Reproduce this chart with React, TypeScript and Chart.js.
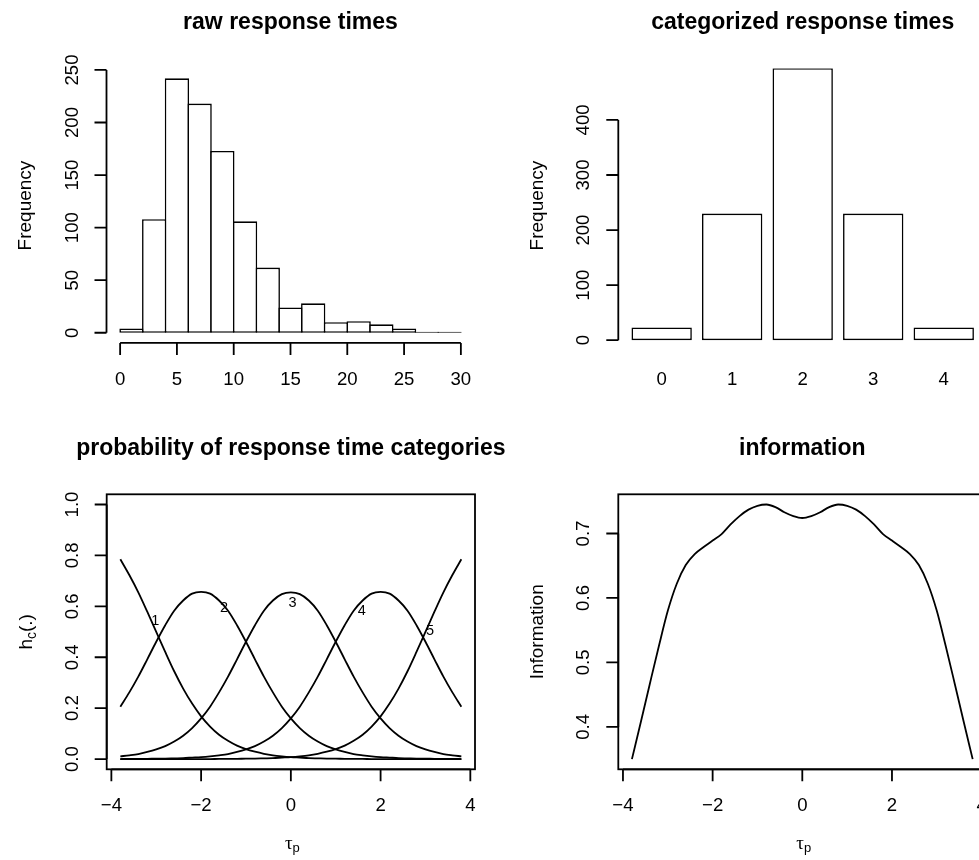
import React, { useEffect, useRef } from 'react';
import { Chart, registerables } from 'chart.js';
Chart.register(...registerables);

// ---------- data ----------
const histBreaks = [0, 2, 4, 6, 8, 10, 12, 14, 16, 18, 20, 22, 24, 26, 28, 30];
const histCounts = [4, 108, 242, 218, 173, 106, 62, 24, 28, 10, 11, 8, 4, 1, 1];
const histXTicks = [0, 5, 10, 15, 20, 25, 30];
const histYTicks = [0, 50, 100, 150, 200, 250];

const catLabels = ['0', '1', '2', '3', '4'];
const catCounts = [23, 230, 494, 230, 23];
const catYTicks = [0, 100, 200, 300, 400];

const tau = [
  -3.8, -3.6, -3.4, -3.2, -3.0, -2.8, -2.6, -2.4, -2.2, -2.0, -1.8, -1.6, -1.4, -1.2, -1.0, -0.8, -0.6, -0.4, -0.2,
  0.0, 0.2, 0.4, 0.6, 0.8, 1.0, 1.2, 1.4, 1.6, 1.8, 2.0, 2.2, 2.4, 2.6, 2.8, 3.0, 3.2, 3.4, 3.6, 3.8,
];
const probCat1 = [
  0.785, 0.723, 0.655, 0.579, 0.5, 0.421, 0.345, 0.277, 0.218, 0.168, 0.128, 0.096, 0.072, 0.053, 0.039, 0.029, 0.021,
  0.015, 0.011, 0.008, 0.006, 0.004, 0.003, 0.002, 0.002, 0.001, 0.001, 0.001, 0, 0, 0, 0, 0, 0, 0, 0, 0, 0, 0,
];
const probCat2 = [
  0.206, 0.262, 0.324, 0.392, 0.461, 0.526, 0.583, 0.623, 0.65, 0.657, 0.65, 0.623, 0.583, 0.526, 0.461, 0.392, 0.324,
  0.262, 0.206, 0.16, 0.122, 0.092, 0.069, 0.051, 0.038, 0.028, 0.02, 0.015, 0.011, 0.008, 0.006, 0.004, 0.003, 0.002,
  0.002, 0.001, 0.001, 0.001, 0.0,
];
const probCat3 = [
  0.011, 0.015, 0.02, 0.028, 0.038, 0.051, 0.069, 0.092, 0.122, 0.16, 0.206, 0.262, 0.324, 0.392, 0.461, 0.526, 0.583,
  0.623, 0.648, 0.655, 0.648, 0.623, 0.583, 0.526, 0.461, 0.392, 0.324, 0.262, 0.206, 0.16, 0.122, 0.092, 0.069, 0.051,
  0.038, 0.028, 0.02, 0.015, 0.011,
];
const probCat4 = [
  0.0, 0.001, 0.001, 0.001, 0.002, 0.002, 0.003, 0.004, 0.006, 0.008, 0.011, 0.015, 0.02, 0.028, 0.038, 0.051, 0.069,
  0.092, 0.122, 0.16, 0.206, 0.262, 0.324, 0.392, 0.461, 0.526, 0.583, 0.623, 0.65, 0.657, 0.65, 0.623, 0.583, 0.526,
  0.461, 0.392, 0.324, 0.262, 0.206,
];
const probCat5 = [
  0, 0, 0, 0, 0, 0, 0, 0, 0, 0, 0, 0.001, 0.001, 0.001, 0.002, 0.002, 0.003, 0.004, 0.006, 0.008, 0.011, 0.015, 0.021,
  0.029, 0.039, 0.053, 0.072, 0.096, 0.128, 0.168, 0.218, 0.277, 0.345, 0.421, 0.5, 0.579, 0.655, 0.723, 0.785,
];
const probLabels = ['1', '2', '3', '4', '5'];
const probLabelX = [-3.02, -1.49, 0.04, 1.58, 3.1];
const probLabelY = [0.541, 0.592, 0.614, 0.583, 0.503];
const tauXTicks = [-4, -2, 0, 2, 4];
const probYTicks = [0, 0.2, 0.4, 0.6, 0.8, 1.0];

const infoValues = [
  0.35, 0.408, 0.467, 0.525, 0.58, 0.622, 0.651, 0.668, 0.679, 0.689, 0.699, 0.714, 0.727, 0.737, 0.743, 0.745, 0.741,
  0.733, 0.727, 0.724, 0.727, 0.733, 0.741, 0.745, 0.743, 0.737, 0.727, 0.714, 0.699, 0.689, 0.679, 0.668, 0.651, 0.622,
  0.58, 0.525, 0.467, 0.408, 0.35,
];
const infoYTicks = [0.4, 0.5, 0.6, 0.7];

// ---------- helpers ----------
const FONT = '"Liberation Sans", Arial, Helvetica, sans-serif';
const SERIF = '"Liberation Serif", "DejaVu Serif", serif';
const INK = '#000';
const minus = (s: string) => s.replace('-', '\u2212');
const ext = (a: number, b: number) => [a - 0.04 * (b - a), b + 0.04 * (b - a)];

type Deco = {
  title: string;
  xTicks?: number[];
  xTickText?: string[];
  catAxis?: boolean;
  yTicks: number[];
  yTickText: string[];
  yAxisGap?: number;
  yLabel: string;
  xLabelTau?: boolean;
  box?: boolean;
  notes?: { text: string[]; x: number[]; y: number[] };
};

function rPlugin(d: Deco) {
  return {
    id: 'rdeco',
    afterDatasetsDraw(chart: any) {
      const { ctx, chartArea: ca, scales } = chart;
      const xs = scales.x;
      const ys = scales.y;
      const cx = (ca.left + ca.right) / 2;
      const cy = (ca.top + ca.bottom) / 2;
      ctx.save();
      ctx.strokeStyle = INK;
      ctx.fillStyle = INK;
      ctx.lineWidth = 1.8;
      ctx.textAlign = 'center';
      ctx.textBaseline = 'middle';

      // title
      ctx.font = `bold 23px ${FONT}`;
      ctx.fillText(d.title, cx, ca.top - 46);

      // box
      if (d.box) ctx.strokeRect(ca.left, ca.top, ca.right - ca.left, ca.bottom - ca.top);

      // y axis
      const ax = ca.left - (d.yAxisGap || 0);
      const yp = d.yTicks.map((v) => ys.getPixelForValue(v));
      ctx.beginPath();
      ctx.moveTo(ax, yp[0]);
      ctx.lineTo(ax, yp[yp.length - 1]);
      yp.forEach((p) => {
        ctx.moveTo(ax, p);
        ctx.lineTo(ax - 12, p);
      });
      ctx.stroke();
      ctx.font = `18.6px ${FONT}`;
      yp.forEach((p, i) => {
        ctx.save();
        ctx.translate(ax - 34, p);
        ctx.rotate(-Math.PI / 2);
        ctx.fillText(d.yTickText[i], 0, 0);
        ctx.restore();
      });

      // x axis
      if (d.xTicks && d.xTickText) {
        const xp = d.xTicks.map((v) => xs.getPixelForValue(v));
        const by = ca.bottom;
        ctx.beginPath();
        ctx.moveTo(xp[0], by);
        ctx.lineTo(xp[xp.length - 1], by);
        xp.forEach((p) => {
          ctx.moveTo(p, by);
          ctx.lineTo(p, by + 12);
        });
        ctx.stroke();
        xp.forEach((p, i) => ctx.fillText(d.xTickText![i], p, by + 37));
      }
      if (d.catAxis) {
        xs.getLabels().forEach((lab: string, i: number) => ctx.fillText(lab, xs.getPixelForValue(i), ca.bottom + 37));
      }

      // y label
      ctx.save();
      ctx.translate(ax - 81, cy);
      ctx.rotate(-Math.PI / 2);
      if (d.yLabel === 'hc') {
        ctx.textAlign = 'left';
        ctx.textBaseline = 'alphabetic';
        ctx.font = `19px ${FONT}`;
        const w1 = ctx.measureText('h').width;
        const w3 = ctx.measureText('(.)').width;
        ctx.font = `14px ${FONT}`;
        const w2 = ctx.measureText('c').width;
        const x0 = -(w1 + w2 + w3) / 2;
        ctx.font = `19px ${FONT}`;
        ctx.fillText('h', x0, 6.5);
        ctx.fillText('(.)', x0 + w1 + w2, 6.5);
        ctx.font = `14px ${FONT}`;
        ctx.fillText('c', x0 + w1, 10.5);
      } else {
        ctx.font = `19px ${FONT}`;
        ctx.fillText(d.yLabel, 0, 0);
      }
      ctx.restore();

      // x label tau_p
      if (d.xLabelTau) {
        ctx.textAlign = 'left';
        ctx.textBaseline = 'alphabetic';
        ctx.font = `19px ${SERIF}`;
        const w1 = ctx.measureText('\u03c4').width;
        ctx.font = `13px ${FONT}`;
        const w2 = ctx.measureText('p').width;
        const x0 = cx + 1.5 - (w1 + w2) / 2;
        const by = ca.bottom + 79.5;
        ctx.font = `19px ${SERIF}`;
        ctx.fillText('\u03c4', x0, by);
        ctx.font = `13px ${FONT}`;
        ctx.fillText('p', x0 + w1, by + 3.5);
      }

      // curve labels
      if (d.notes) {
        ctx.textAlign = 'center';
        ctx.textBaseline = 'middle';
        ctx.font = `14.5px ${FONT}`;
        d.notes.text.forEach((t, i) =>
          ctx.fillText(t, xs.getPixelForValue(d.notes!.x[i]), ys.getPixelForValue(d.notes!.y[i]))
        );
      }
      ctx.restore();
    },
  };
}

const baseOpts = (padding: any) => ({
  animation: false as const,
  responsive: false,
  events: [] as any[],
  layout: { padding },
  plugins: { legend: { display: false }, tooltip: { enabled: false }, title: { display: false } },
});

// ---------- chart configs ----------
function histConfig(): any {
  const mids = histCounts.map((_, i) => (histBreaks[i] + histBreaks[i + 1]) / 2);
  const [xmin, xmax] = ext(histBreaks[0], histBreaks[histBreaks.length - 1]);
  const [ymin, ymax] = ext(0, Math.max(...histCounts));
  return {
    type: 'bar',
    data: {
      datasets: [
        {
          data: mids.map((m, i) => ({ x: m, y: histCounts[i] })),
          backgroundColor: '#fff',
          borderColor: INK,
          borderWidth: 1.6,
          borderSkipped: false,
          barPercentage: 1.07,
          categoryPercentage: 1,
        },
      ],
    },
    options: {
      ...baseOpts({ left: 106.5, right: 36.5, top: 68.2, bottom: 57.1 }),
      scales: {
        x: {
          type: 'linear',
          min: xmin,
          max: xmax,
          offset: false,
          display: false,
          grid: { offset: false },
          ticks: { stepSize: 5, includeBounds: false },
        },
        y: { type: 'linear', min: ymin, max: ymax, display: false },
      },
    },
    plugins: [
      rPlugin({
        title: 'raw response times',
        xTicks: histXTicks,
        xTickText: histXTicks.map(String),
        yTicks: histYTicks,
        yTickText: histYTicks.map(String),
        yLabel: 'Frequency',
      }),
    ],
  };
}

function catConfig(): any {
  const top = Math.max(...catCounts);
  return {
    type: 'bar',
    data: {
      labels: catLabels,
      datasets: [
        {
          data: catCounts,
          backgroundColor: '#fff',
          borderColor: INK,
          borderWidth: 1.6,
          borderSkipped: false,
          barPercentage: 0.856,
          categoryPercentage: 1,
        },
      ],
    },
    options: {
      ...baseOpts({ left: 115.4, right: 43, top: 68.2, bottom: 57.1 }),
      scales: {
        x: { type: 'category', offset: true, display: false },
        y: { type: 'linear', min: -0.01 * top, max: top, display: false },
      },
    },
    plugins: [
      rPlugin({
        title: 'categorized response times',
        catAxis: true,
        yTicks: catYTicks,
        yTickText: catYTicks.map(String),
        yAxisGap: 8.1,
        yLabel: 'Frequency',
      }),
    ],
  };
}

const lineDs = (ys: number[]) => ({
  data: tau.map((t, i) => ({ x: t, y: ys[i] })),
  borderColor: INK,
  borderWidth: 1.8,
  pointRadius: 0,
  fill: false,
  cubicInterpolationMode: 'monotone',
});

function probConfig(): any {
  const [xmin, xmax] = ext(tau[0], tau[tau.length - 1]);
  const [ymin, ymax] = ext(0, 1);
  return {
    type: 'line',
    data: { datasets: [probCat1, probCat2, probCat3, probCat4, probCat5].map(lineDs) },
    options: {
      ...baseOpts({ left: 106.7, right: 36, top: 94.3, bottom: 90.7 }),
      scales: {
        x: { type: 'linear', min: xmin, max: xmax, display: false },
        y: { type: 'linear', min: ymin, max: ymax, display: false },
      },
    },
    plugins: [
      rPlugin({
        title: 'probability of response time categories',
        xTicks: tauXTicks,
        xTickText: tauXTicks.map((v) => minus(String(v))),
        yTicks: probYTicks,
        yTickText: probYTicks.map((v) => v.toFixed(1)),
        yLabel: 'hc',
        xLabelTau: true,
        box: true,
        notes: { text: probLabels, x: probLabelX, y: probLabelY },
      }),
    ],
  };
}

function infoConfig(): any {
  const [xmin, xmax] = ext(tau[0], tau[tau.length - 1]);
  const [ymin, ymax] = ext(Math.min(...infoValues), Math.max(...infoValues));
  return {
    type: 'line',
    data: { datasets: [lineDs(infoValues)] },
    options: {
      ...baseOpts({ left: 107.3, right: 35.7, top: 94.3, bottom: 90.7 }),
      scales: {
        x: { type: 'linear', min: xmin, max: xmax, display: false },
        y: { type: 'linear', min: ymin, max: ymax, display: false },
      },
    },
    plugins: [
      rPlugin({
        title: 'information',
        xTicks: tauXTicks,
        xTickText: tauXTicks.map((v) => minus(String(v))),
        yTicks: infoYTicks,
        yTickText: infoYTicks.map((v) => v.toFixed(1)),
        yLabel: 'Information',
        xLabelTau: true,
        box: true,
      }),
    ],
  };
}

function Panel(props: { left: number; top: number; width: number; height: number; make: () => any }) {
  const ref = useRef<HTMLCanvasElement>(null);
  useEffect(() => {
    const chart = new Chart(ref.current as HTMLCanvasElement, props.make());
    return () => chart.destroy();
  }, []);
  return (
    <canvas
      ref={ref}
      width={props.width}
      height={props.height}
      style={{ position: 'absolute', left: props.left, top: props.top, width: props.width, height: props.height }}
    />
  );
}

export default function App() {
  return (
    <div
      style={{
        position: 'fixed',
        left: 0,
        top: 0,
        width: 979,
        height: 860,
        overflow: 'hidden',
        background: '#fff',
      }}
    >
      <Panel left={0} top={0} width={511} height={400} make={histConfig} />
      <Panel left={511} top={0} width={511} height={400} make={catConfig} />
      <Panel left={0} top={400} width={511} height={460} make={probConfig} />
      <Panel left={511} top={400} width={511} height={460} make={infoConfig} />
    </div>
  );
}
